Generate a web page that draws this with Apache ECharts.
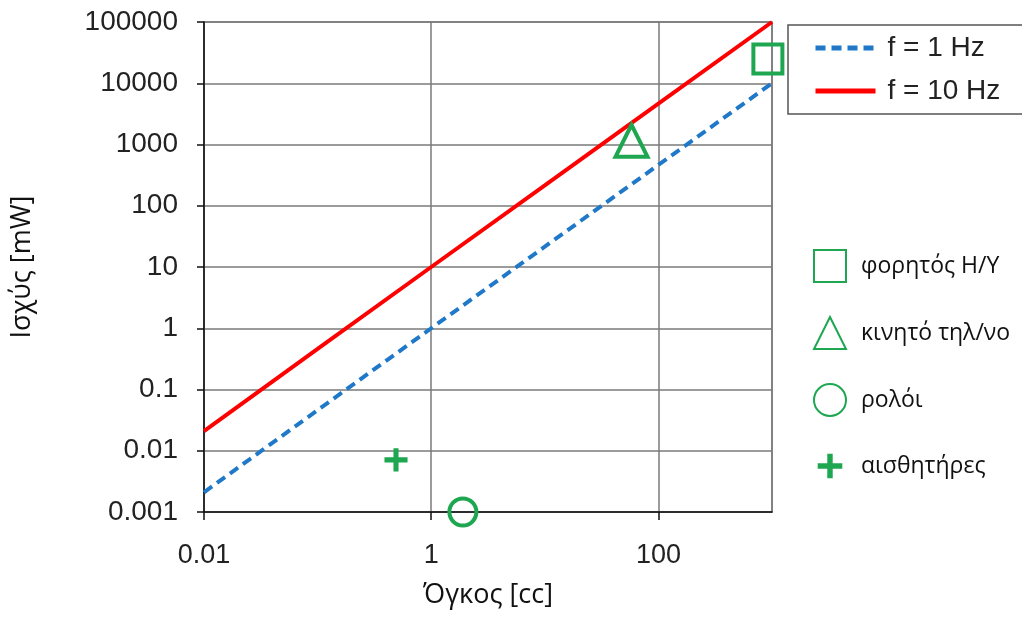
<!DOCTYPE html>
<html><head><meta charset="utf-8">
<script src="https://cdn.jsdelivr.net/npm/echarts@6/dist/echarts.min.js"></script>
<style>html,body{margin:0;padding:0;background:#fff}#c{width:1022px;height:624px}</style>
</head><body><div id="c"></div>
<script>
// Data
const volumes = [0.01, 0.1, 1, 10, 100, 1000];          // Όγκος [cc]
const power1Hz = [0.0021, 0.046, 1, 21.5, 464, 10000];  // f = 1 Hz  [mW]
const power10Hz = [0.021, 0.46, 10, 215, 4640, 100000]; // f = 10 Hz [mW]
const deviceNames = ['φορητός Η/Υ', 'κινητό τηλ/νο', 'ρολόι', 'αισθητήρες'];
const deviceVolumes = [920, 58, 1.9, 0.49];
const devicePowers = [25000, 1150, 0.001, 0.0071];
const xTickLabels = {'-2': '0.01', '0': '1', '2': '100'};
const yTickLabels = {'-3':'0.001','-2':'0.01','-1':'0.1','0':'1','1':'10','2':'100','3':'1000','4':'10000','5':'100000'};

const GREEN = '#1ea650';
const numFont = "'Liberation Sans', Arial, sans-serif";
const txtFont = "'Open Sans', 'Noto Sans', sans-serif";
const plusPath = 'path://M-1.5,-1.5M11.5,11.5M3.9,0H6.1V3.9H10V6.1H6.1V10H3.9V6.1H0V3.9H3.9Z';
const symbols = ['rect', 'triangle', 'circle', plusPath];
const symSizes = [29, 32, 27, 30];

const chart = echarts.init(document.getElementById('c'));
const series = [
  {name: 'f = 1 Hz', type: 'line', symbol: 'none', data: volumes.map((v, i) => [v, power1Hz[i]]),
   lineStyle: {color: '#1f78c8', width: 4, type: [10, 6]}, itemStyle: {color: '#1f78c8'}, z: 3},
  {name: 'f = 10 Hz', type: 'line', symbol: 'none', data: volumes.map((v, i) => [v, power10Hz[i]]),
   lineStyle: {color: '#ff0000', width: 4}, itemStyle: {color: '#ff0000'}, z: 3}
];
deviceNames.forEach((n, i) => {
  const plus = i === 3;
  series.push({
    name: n, type: 'scatter', clip: false, symbol: symbols[i], symbolSize: symSizes[i],
    data: [[deviceVolumes[i], devicePowers[i]]],
    itemStyle: plus ? {color: GREEN, borderWidth: 0, opacity: 1}
                    : {color: 'rgba(255,255,255,0)', borderColor: GREEN, borderWidth: 4, opacity: 1},
    z: 5
  });
});

chart.setOption({
  animation: false,
  grid: {left: 204, right: 250, top: 22, bottom: 112, show: true, borderColor: '#7a7a7a', borderWidth: 1.5},
  xAxis: {
    type: 'log', logBase: 100, min: 0.01, max: 1000,
    name: 'Όγκος [cc]', nameLocation: 'middle', nameGap: 70,
    nameTextStyle: {fontFamily: txtFont, fontSize: 27, color: '#111'},
    axisLine: {lineStyle: {color: '#111', width: 1.5}},
    axisTick: {show: true, length: 8, lineStyle: {color: '#111', width: 1.5}},
    axisLabel: {showMaxLabel: false, margin: 30, fontFamily: numFont, fontSize: 27, color: '#222',
      formatter: v => xTickLabels[String(Math.round(Math.log10(v)))] || ''},
    splitLine: {show: true, lineStyle: {color: '#7a7a7a', width: 1.5}}
  },
  yAxis: {
    type: 'log', logBase: 10, min: 0.001, max: 100000,
    name: 'Ισχύς [mW]', nameLocation: 'middle', nameGap: 168, nameRotate: 90,
    nameTextStyle: {fontFamily: txtFont, fontSize: 27, color: '#111'},
    axisLine: {lineStyle: {color: '#111', width: 1.5}},
    axisTick: {show: true, length: 7, lineStyle: {color: '#111', width: 1.5}},
    axisLabel: {margin: 26, fontFamily: numFont, fontSize: 28, color: '#222',
      formatter: v => yTickLabels[String(Math.round(Math.log10(v)))] || ''},
    splitLine: {show: true, lineStyle: {color: '#7a7a7a', width: 1.5}}
  },
  legend: [
    {data: ['f = 1 Hz', 'f = 10 Hz'], orient: 'vertical', left: 788, top: 25,
     padding: [9, 40, 9, 25], itemGap: 15, itemWidth: 60, itemHeight: 14,
     borderColor: '#555', borderWidth: 1.5, selectedMode: false,
     itemStyle: {opacity: 0}, lineStyle: {width: 5},
     textStyle: {fontFamily: numFont, fontSize: 28, color: '#222', padding: [0, 0, 0, 7]}},
    {data: deviceNames, orient: 'vertical', left: 813, top: 249, padding: 0,
     itemGap: 33, itemWidth: 32, itemHeight: 32, selectedMode: false,
     textStyle: {fontFamily: txtFont, fontSize: 23, color: '#111', padding: [0, 0, 0, 10]}}
  ],
  series: series
});
</script></body></html>
